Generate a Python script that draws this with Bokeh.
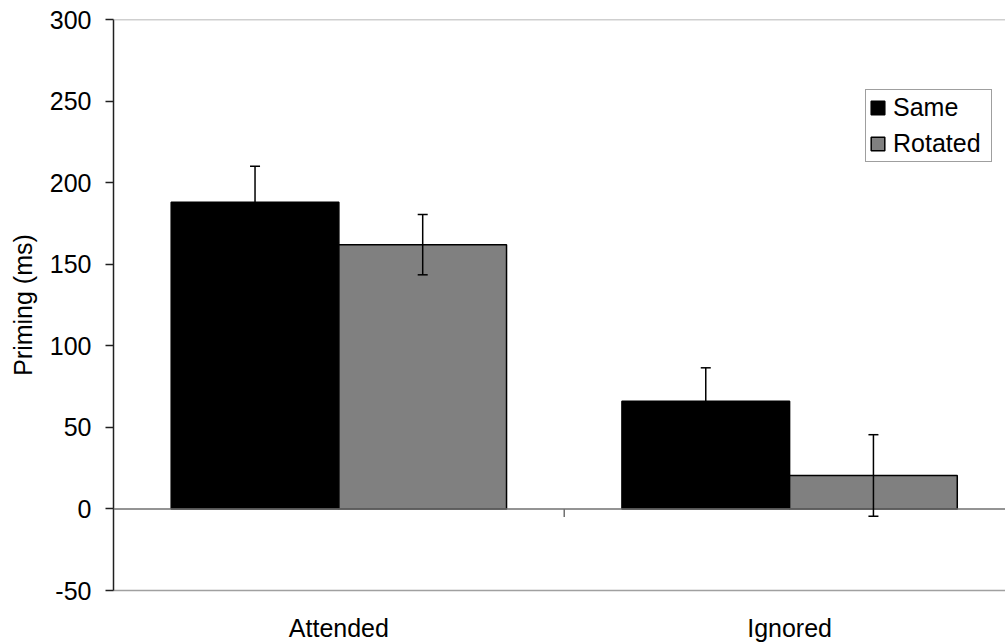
from bokeh.plotting import figure
from bokeh.models import Range1d, FixedTicker, Span, Whisker, TeeHead, ColumnDataSource, Legend, LegendItem
from bokeh.embed import file_html
from bokeh.resources import INLINE

# ---- data ----
categories = ["Attended", "Ignored"]
series_names = ["Same", "Rotated"]
same_vals = [188, 66]
same_err = [22, 20.5]
rotated_vals = [162, 20.5]
rotated_err = [18.5, 25]
y_ticks = [-50, 0, 50, 100, 150, 200, 250, 300]
y_label = "Priming (ms)"

FONT = "Liberation Sans"

p = figure(width=1005, height=644, x_range=Range1d(0, 1.979), y_range=Range1d(-50, 300),
           output_backend="svg", toolbar_location=None,
           min_border_left=113, min_border_right=0, min_border_top=19, min_border_bottom=54)
p.grid.visible = False
p.outline_line_color = None
p.background_fill_color = "white"
p.border_fill_color = "white"

centers = [i + 0.5 for i in range(len(categories))]
bar_w = 0.372
x_same = [c - bar_w / 2 for c in centers]
x_rot = [c + bar_w / 2 for c in centers]

r_same = p.vbar(x=x_same, top=same_vals, bottom=0, width=bar_w,
                fill_color="black", line_color="black", line_width=1.5)
r_rot = p.vbar(x=x_rot, top=rotated_vals, bottom=0, width=bar_w,
               fill_color="#808080", line_color="black", line_width=1.5)

# zero line, top line
p.add_layout(Span(location=0, dimension="width", line_color="#707070", line_width=1.5))
p.add_layout(Span(location=y_ticks[-1], dimension="width", line_color="#a0a0a0", line_width=1.5))

# category separator ticks
seps = [i for i in range(1, len(categories))]
p.segment(x0=seps, y0=[0] * len(seps), x1=seps, y1=[-5] * len(seps),
          line_color="#707070", line_width=1.5)

# error bars
for xs, vals, errs in [(x_same, same_vals, same_err), (x_rot, rotated_vals, rotated_err)]:
    src = ColumnDataSource(dict(x=xs,
                                upper=[v + e for v, e in zip(vals, errs)],
                                lower=[v - e for v, e in zip(vals, errs)]))
    w = Whisker(source=src, base="x", upper="upper", lower="lower", dimension="height",
                line_color="black", line_width=1.5, level="overlay",
                upper_head=TeeHead(size=10, line_color="black", line_width=1.5),
                lower_head=TeeHead(size=10, line_color="black", line_width=1.5))
    p.add_layout(w)

# y axis
ya = p.yaxis[0]
ya.ticker = FixedTicker(ticks=y_ticks)
ya.major_label_overrides = {t: str(t) for t in y_ticks}
ya.minor_tick_line_color = None
ya.major_tick_in = 0
ya.major_tick_out = 8
ya.major_tick_line_color = "#202020"
ya.major_tick_line_width = 1.5
ya.axis_line_color = "#202020"
ya.axis_line_width = 1.5
ya.major_label_standoff = 14
ya.major_label_text_font = FONT
ya.major_label_text_font_size = "25px"
ya.major_label_text_color = "black"
ya.axis_label = y_label
ya.axis_label_text_font = FONT
ya.axis_label_text_font_size = "25px"
ya.axis_label_text_font_style = "normal"
ya.axis_label_text_color = "black"
ya.axis_label_standoff = 10

# x axis (category labels, bottom border line)
xa = p.xaxis[0]
xa.ticker = FixedTicker(ticks=centers)
xa.major_label_overrides = {c: cat for c, cat in zip(centers, categories)}
xa.major_tick_line_color = None
xa.minor_tick_line_color = None
xa.axis_line_color = "#a0a0a0"
xa.axis_line_width = 1.5
xa.major_label_standoff = 17
xa.major_label_text_font = FONT
xa.major_label_text_font_size = "25px"
xa.major_label_text_color = "black"

legend = Legend(items=[LegendItem(label=series_names[0], renderers=[r_same]),
                       LegendItem(label=series_names[1], renderers=[r_rot])],
                location=(752, 428), margin=0, padding=3, spacing=7,
                glyph_width=17, glyph_height=17, label_standoff=7,
                label_height=29, label_width=95,
                label_text_font=FONT, label_text_font_size="25px", label_text_color="black",
                border_line_color="#404040", border_line_width=1,
                background_fill_color="white", background_fill_alpha=1)
p.add_layout(legend)

open("out.html", "w").write(file_html(p, INLINE))
